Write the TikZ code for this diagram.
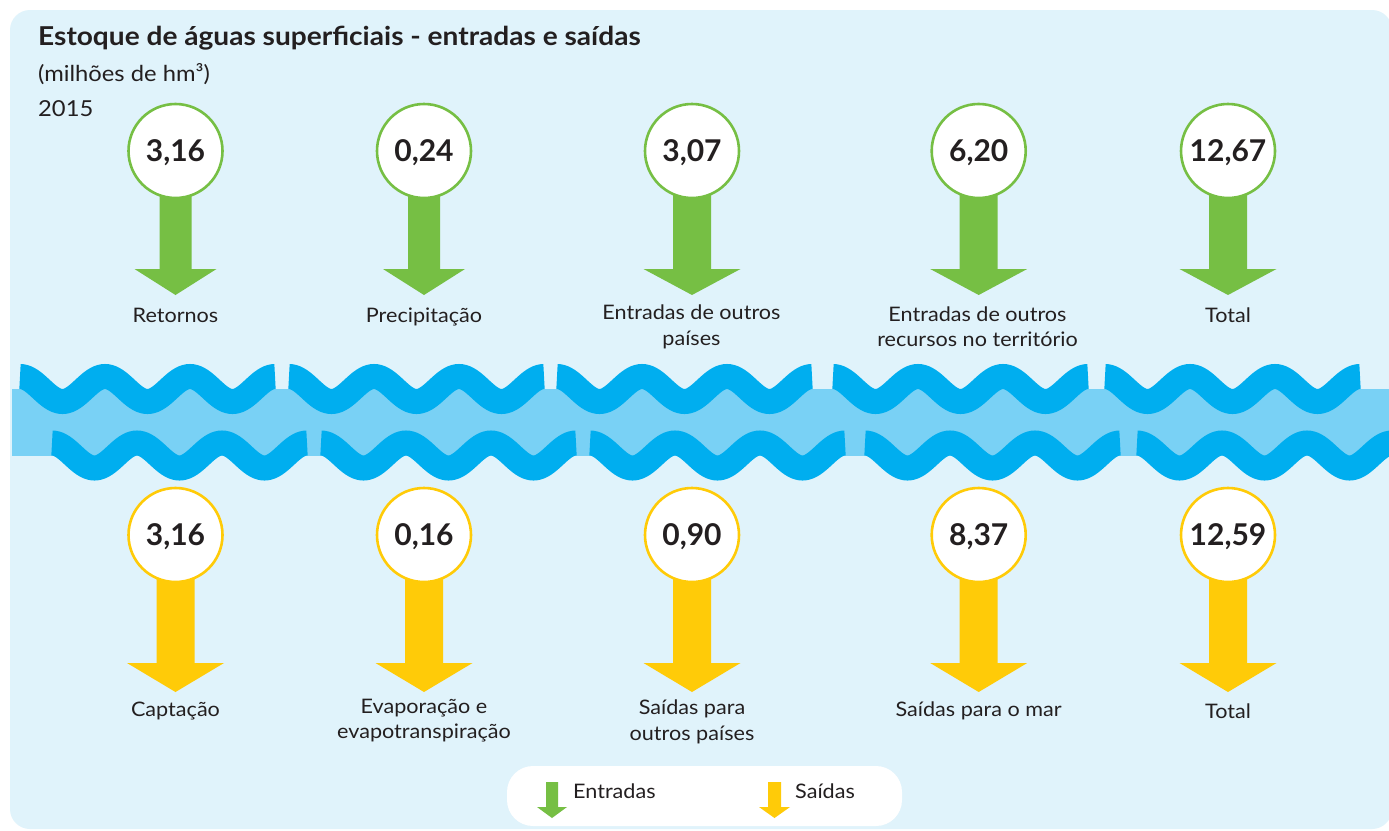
\documentclass[tikz,border=0pt]{standalone}
\usepackage{fontspec}
\setmainfont{Lato}[FakeStretch=1.08]
\newfontfamily\numfont{Lato}
\definecolor{cBg}{HTML}{E0F3FB}
\definecolor{cBand}{HTML}{79D1F5}
\definecolor{cWave}{HTML}{00AEEF}
\definecolor{cGreen}{HTML}{76BF44}
\definecolor{cYellow}{HTML}{FFCB08}
\definecolor{cInk}{HTML}{231F20}
\begin{document}
\begin{tikzpicture}[x=1pt,y=-1pt,
  numcirc/.style={circle, fill=white, line width=2.6pt, minimum size=94pt, inner sep=0pt,
    font=\numfont\bfseries\fontsize{30}{36}\selectfont, text=cInk, text height=21.6pt, text depth=0pt},
  lab/.style={anchor=base, align=center, font=\fontsize{20}{25.5}\selectfont, text=cInk},
  wavestroke/.style={draw=cWave, line width=25pt},
  legtext/.style={anchor=base west, inner sep=0pt, font=\fontsize{20}{24}\selectfont, text=cInk}]
\useasboundingbox (0,0) rectangle (1389,830);
\clip (0,0) rectangle (1389,830);
% background
\fill[white] (0,0) rectangle (1389,830);
\fill[cBg, rounded corners=20pt] (10,10) rectangle (1392,829);
% band and waves
\fill[cBand] (12,389) rectangle (1389,456);
\foreach \xs in {20,289,557,833,1105}
  \draw[wavestroke] plot[domain=0:255,samples=121,smooth] ({\xs+\x},{389-12.5*cos(4.2352941*\x)});
\foreach \xs in {52,321,590,865,1137}
  \draw[wavestroke] plot[domain=0:255,samples=121,smooth] ({\xs+\x},{455.5-12.5*cos(4.2352941*\x)});
% title
\node[anchor=base west, font=\bfseries\fontsize{26}{30}\selectfont, text=cInk, inner sep=0pt] (title) at (38,45) {Estoque de águas superficiais - entradas e saídas};
\node[anchor=base west, font=\fontsize{22}{26}\selectfont, text=cInk, inner sep=0pt] (unit) at (38,81) {(milhões de hm³)};
\node[anchor=base west, font=\fontsize{22}{26}\selectfont, text=cInk, inner sep=0pt] (year) at (38,116) {2015};
% green arrows
\foreach \cx/\sw/\hw in {175.5/16/41, 424/16/41, 692/19/48.5, 978.7/19/48.5, 1228/19/48.5}
  \fill[cGreen] (\cx-\sw,180) -- (\cx+\sw,180) -- (\cx+\sw,269) -- (\cx+\hw,269) -- (\cx,295) -- (\cx-\hw,269) -- (\cx-\sw,269) -- cycle;
% yellow arrows
\foreach \cx in {175.5,424,692,978.7,1228}
  \fill[cYellow] (\cx-19,570) -- (\cx+19,570) -- (\cx+19,663) -- (\cx+48.5,663) -- (\cx,692) -- (\cx-48.5,663) -- (\cx-19,663) -- cycle;
% top circles
\node[numcirc, draw=cGreen] (in1) at (175.5,151) {3,16};
\node[numcirc, draw=cGreen] (in2) at (424,151) {0,24};
\node[numcirc, draw=cGreen] (in3) at (692,151) {3,07};
\node[numcirc, draw=cGreen] (in4) at (978.7,151) {6,20};
\node[numcirc, draw=cGreen] (in5) at (1228,151) {12,67};
% bottom circles
\node[numcirc, draw=cYellow] (out1) at (175.5,535) {3,16};
\node[numcirc, draw=cYellow] (out2) at (424,535) {0,16};
\node[numcirc, draw=cYellow] (out3) at (692,535) {0,90};
\node[numcirc, draw=cYellow] (out4) at (978.7,535) {8,37};
\node[numcirc, draw=cYellow] (out5) at (1228,535) {12,59};
% top labels (anchor at baseline of last line)
\node[lab] (lin1) at (175.5,322) {Retornos};
\node[lab] (lin2) at (424,322) {Precipitação};
\node[lab] (lin3) at (691.5,345) {Entradas de outros\\países};
\node[lab] (lin4) at (977.5,346.5) {Entradas de outros\\recursos no território};
\node[lab] (lin5) at (1228,322) {Total};
% bottom labels
\node[lab] (lout1) at (175.5,716) {Captação};
\node[lab] (lout2) at (424,738.5) {Evaporação e\\evapotranspiração};
\node[lab] (lout3) at (692,740) {Saídas para\\outros países};
\node[lab] (lout4) at (978.7,716) {Saídas para o mar};
\node[lab] (lout5) at (1228,718) {Total};
% legend
\fill[white, rounded corners=26pt] (507,766) rectangle (902,826);
\fill[cGreen] (546,782) -- (558,782) -- (558,807) -- (567,807) -- (552,818) -- (537,807) -- (546,807) -- cycle;
\fill[cYellow] (768,782) -- (781,782) -- (781,807) -- (790,807) -- (774.5,818) -- (759,807) -- (768,807) -- cycle;
\node[legtext] (legin) at (573,798) {Entradas};
\node[legtext] (legout) at (795,798) {Saídas};
\end{tikzpicture}
\end{document}
